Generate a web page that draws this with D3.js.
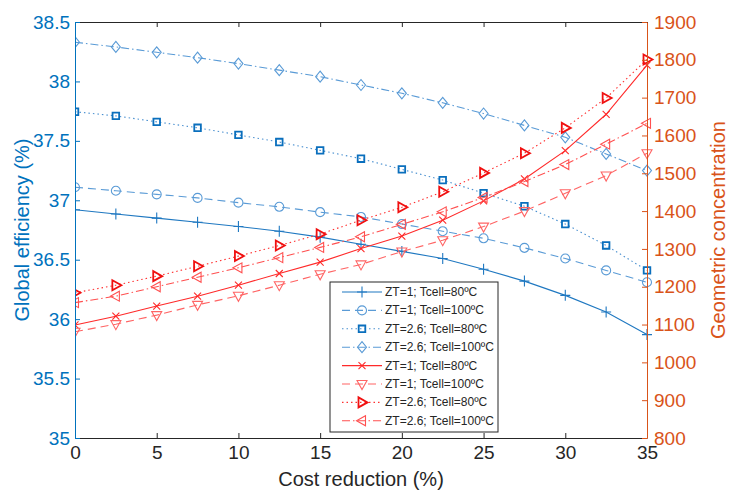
<!DOCTYPE html>
<html>
<head>
<meta charset="utf-8">
<script src="https://cdn.jsdelivr.net/npm/d3@7"></script>
<style>
  body { margin: 0; background: #fff; }
  svg { font-family: "Liberation Sans", Arial, sans-serif; }
</style>
</head>
<body>
<svg id="chart" width="730" height="490"></svg>
<script>
var costReduction = [0, 2.5, 5, 7.5, 10, 12.5, 15, 17.5, 20, 22.5, 25, 27.5, 30, 32.5, 35];

// left axis: global efficiency (%)
var effZT1_80 = [36.92, 36.885, 36.85, 36.815, 36.78, 36.74, 36.69, 36.63, 36.57, 36.51, 36.42, 36.32, 36.20, 36.06, 35.87];
var effZT1_100 = [37.11, 37.08, 37.05, 37.02, 36.98, 36.945, 36.90, 36.86, 36.80, 36.74, 36.68, 36.60, 36.51, 36.41, 36.31];
var effZT26_80 = [37.745, 37.71, 37.66, 37.61, 37.55, 37.49, 37.42, 37.35, 37.26, 37.17, 37.06, 36.95, 36.80, 36.62, 36.41];
var effZT26_100 = [38.33, 38.29, 38.245, 38.20, 38.15, 38.095, 38.04, 37.97, 37.90, 37.82, 37.73, 37.63, 37.53, 37.39, 37.25];

// right axis: geometric concentration
var concZT1_80 = [1099, 1122, 1149, 1175, 1204, 1235, 1265, 1301, 1334, 1376, 1427, 1485, 1560, 1656, 1786];
var concZT1_100 = [1081, 1101, 1125, 1152, 1176, 1204, 1233, 1259, 1293, 1323, 1359, 1400, 1447, 1494, 1553];
var concZT26_80 = [1184, 1204, 1228, 1254, 1281, 1309, 1339, 1376, 1410, 1451, 1501, 1553, 1620, 1699, 1801];
var concZT26_100 = [1158, 1175, 1200, 1225, 1250, 1277, 1304, 1332, 1365, 1398, 1436, 1478, 1523, 1577, 1632];

var xTicks = [0, 5, 10, 15, 20, 25, 30, 35];
var leftTicks = [35, 35.5, 36, 36.5, 37, 37.5, 38, 38.5];
var rightTicks = [800, 900, 1000, 1100, 1200, 1300, 1400, 1500, 1600, 1700, 1800, 1900];

var legendLabels = ["ZT=1; Tcell=80ºC", "ZT=1; Tcell=100ºC", "ZT=2.6; Tcell=80ºC", "ZT=2.6; Tcell=100ºC",
                    "ZT=1; Tcell=80ºC", "ZT=1; Tcell=100ºC", "ZT=2.6; Tcell=80ºC", "ZT=2.6; Tcell=100ºC"];

var blueAxis = "#0072BD", orangeAxis = "#D95319", dark = "#262626";

var series = [
    {values: effZT1_80, axis: "L", color: "#1f78c1", dash: null, marker: "plus"},
    {values: effZT1_100, axis: "L", color: "#5a9bd6", dash: "8,5", marker: "circle"},
    {values: effZT26_80, axis: "L", color: "#4a90d0", dash: "1.5,3", marker: "square", mcolor: "#0a6fbd"},
    {values: effZT26_100, axis: "L", color: "#5a9bd6", dash: "8,3,1.5,3", marker: "diamond"},
    {values: concZT1_80, axis: "R", color: "#ff2a2a", dash: null, marker: "x"},
    {values: concZT1_100, axis: "R", color: "#ff6464", dash: "8,5", marker: "tdown"},
    {values: concZT26_80, axis: "R", color: "#ff3030", dash: "1.5,3", marker: "tright", mcolor: "#f01010"},
    {values: concZT26_100, axis: "R", color: "#ff5050", dash: "8,3,1.5,3", marker: "tleft"}
];

var svg = d3.select("#chart");
var x = d3.scaleLinear().domain([0, 35]).range([75, 647]);
var yL = d3.scaleLinear().domain([35, 38.5]).range([438, 22]);
var yR = d3.scaleLinear().domain([800, 1900]).range([438, 22]);

// markers at x=0 are cut by the left axis in the original
svg.append("defs").append("clipPath").attr("id", "plotClip")
    .append("rect").attr("x", 75).attr("y", 0).attr("width", 655).attr("height", 490);

function markerPath(type) {
    switch (type) {
        case "plus": return "M-5,0H5M0,-5.5V5.5";
        case "x": return "M-3.5,-3.5L3.5,3.5M-3.5,3.5L3.5,-3.5";
        case "circle": return "M4.5,0A4.5,4.5 0 1,1 -4.5,0A4.5,4.5 0 1,1 4.5,0Z";
        case "square": return "M-3.3,-3.3H3.3V3.3H-3.3Z";
        case "diamond": return "M0,-5.5L4.5,0L0,5.5L-4.5,0Z";
        case "tdown": return "M-5,-3.5L5,-3.5L0,5.5Z";
        case "tright": return "M-3.5,-5L-3.5,5L5.5,0Z";
        case "tleft": return "M3.5,-5L3.5,5L-5.5,0Z";
    }
    return "";
}

// axes
var xBottom = d3.axisBottom(x).tickValues(xTicks).tickSizeInner(-5).tickSizeOuter(0).tickPadding(8);
var xTop = d3.axisTop(x).tickValues(xTicks).tickSizeInner(-5).tickSizeOuter(0).tickFormat("");
var yLeft = d3.axisLeft(yL).tickValues(leftTicks).tickSizeInner(-5).tickSizeOuter(0).tickPadding(5).tickFormat(d3.format("~g"));
var yRight = d3.axisRight(yR).tickValues(rightTicks).tickSizeInner(-5).tickSizeOuter(0).tickPadding(7).tickFormat(d3.format("d"));

var gx = svg.append("g").attr("transform", "translate(0,438)").call(xBottom);
gx.selectAll("path, line").attr("stroke", dark);
gx.selectAll("text").attr("fill", dark).style("font-size", "19px");

var gxt = svg.append("g").attr("transform", "translate(0,22)").call(xTop);
gxt.selectAll("path, line").attr("stroke", dark);

// series lines and markers
var line = d3.line();
series.forEach(function(s) {
    var yScale = s.axis == "L" ? yL : yR;
    var pts = costReduction.map(function(c, i) { return [x(c), yScale(s.values[i])]; });
    svg.append("path")
        .attr("d", line(pts))
        .attr("fill", "none")
        .attr("stroke", s.color)
        .attr("stroke-width", 1.1)
        .attr("stroke-dasharray", s.dash);
    svg.append("g").attr("clip-path", "url(#plotClip)").selectAll("path")
        .data(pts)
        .enter().append("path")
        .attr("transform", function(p) { return "translate(" + p[0] + "," + p[1] + ")"; })
        .attr("d", markerPath(s.marker))
        .attr("fill", "none")
        .attr("stroke", s.mcolor || s.color)
        .attr("stroke-width", s.marker == "square" || s.marker == "tright" ? 1.8 : 1.1);
});

var gl = svg.append("g").attr("transform", "translate(75,0)").call(yLeft);
gl.selectAll("path, line").attr("stroke", blueAxis);
gl.selectAll("text").attr("fill", blueAxis).style("font-size", "19px");

var gr = svg.append("g").attr("transform", "translate(647,0)").call(yRight);
gr.selectAll("path, line").attr("stroke", orangeAxis);
gr.selectAll("text").attr("fill", orangeAxis).style("font-size", "19px");

// axis titles
svg.append("text")
    .attr("x", 361).attr("y", 486)
    .attr("text-anchor", "middle")
    .attr("fill", dark)
    .style("font-size", "20px")
    .text("Cost reduction (%)");

svg.append("text")
    .attr("transform", "translate(29,230) rotate(-90)")
    .attr("text-anchor", "middle")
    .attr("fill", blueAxis)
    .style("font-size", "20px")
    .text("Global efficiency (%)");

svg.append("text")
    .attr("transform", "translate(725,230) rotate(-90)")
    .attr("text-anchor", "middle")
    .attr("fill", orangeAxis)
    .style("font-size", "20px")
    .text("Geometric concentration");

// legend
var legend = svg.append("g");
legend.append("rect")
    .attr("x", 330).attr("y", 282)
    .attr("width", 168).attr("height", 150)
    .attr("fill", "#fff")
    .attr("stroke", dark)
    .attr("stroke-width", 1);

series.forEach(function(s, i) {
    var ly = 292 + i * 18.4;
    legend.append("line")
        .attr("x1", 342).attr("x2", 382)
        .attr("y1", ly).attr("y2", ly)
        .attr("stroke", s.color)
        .attr("stroke-width", 1.1)
        .attr("stroke-dasharray", s.dash);
    legend.append("path")
        .attr("transform", "translate(362," + ly + ")")
        .attr("d", markerPath(s.marker))
        .attr("fill", "none")
        .attr("stroke", s.mcolor || s.color)
        .attr("stroke-width", s.marker == "square" || s.marker == "tright" ? 1.8 : 1.1);
    legend.append("text")
        .attr("x", 385).attr("y", ly + 4)
        .attr("fill", dark)
        .style("font-size", "12px")
        .text(legendLabels[i]);
});
</script>
</body>
</html>
